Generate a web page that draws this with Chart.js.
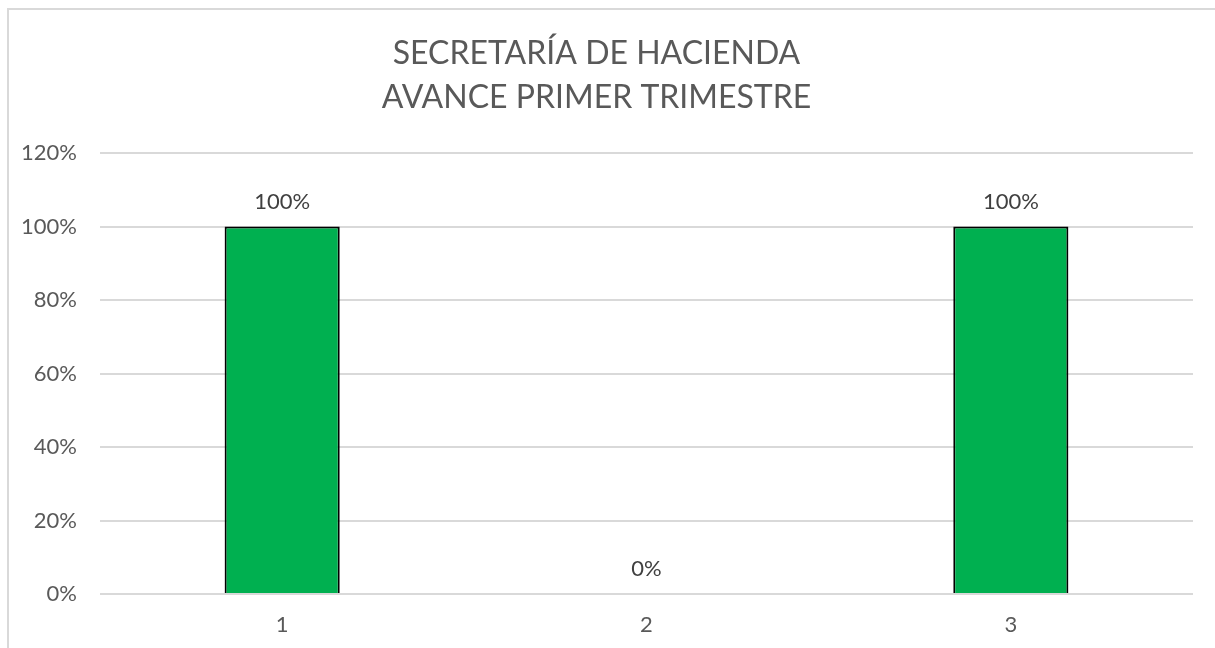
<!DOCTYPE html>
<html>
<head>
<meta charset="utf-8">
<script src="https://cdn.jsdelivr.net/npm/chart.js@4"></script>
<style>
  html, body { margin: 0; padding: 0; background: #fff; }
  #wrap { position: relative; width: 1215px; height: 648px; overflow: hidden; }
  #frame { position: absolute; left: 7px; top: 8px; width: 1300px; height: 700px;
           border: 2px solid #d9d9d9; box-sizing: border-box; pointer-events: none; }
  canvas { position: absolute; left: 0; top: 0; }
</style>
</head>
<body>
<div id="wrap">
  <canvas id="avanceChart" width="1215" height="648"></canvas>
  <div id="frame"></div>
</div>
<script>
// datos del gráfico
const titleLines = ["SECRETARÍA DE HACIENDA", "AVANCE PRIMER TRIMESTRE"];
const categories = ["1", "2", "3"];
const avance = [1, 0, 1];
const yTicks = [0, 0.2, 0.4, 0.6, 0.8, 1, 1.2];

const pct = v => Math.round(v * 100) + "%";

// etiquetas encima de las barras
const barLabels = {
  id: "barLabels",
  afterDatasetsDraw(chart) {
    const ctx = chart.ctx;
    const meta = chart.getDatasetMeta(0);
    ctx.save();
    ctx.font = "22px Lato";
    ctx.fillStyle = "#404040";
    ctx.textAlign = "center";
    ctx.textBaseline = "alphabetic";
    meta.data.forEach((bar, i) => {
      ctx.fillText(pct(avance[i]), bar.x, bar.y - 18);
    });
    ctx.restore();
  }
};

const ctx = document.getElementById("avanceChart").getContext("2d");
new Chart(ctx, {
  type: "bar",
  data: {
    labels: categories,
    datasets: [{
      data: avance,
      backgroundColor: "#00B050",
      borderColor: "#000000",
      borderWidth: c => (avance[c.dataIndex] === 0 ? 0 : 2),
      categoryPercentage: 1,
      barPercentage: 0.316
    }]
  },
  options: {
    responsive: false,
    animation: false,
    layout: { padding: { left: 0, right: 22, top: 0, bottom: 0 } },
    plugins: {
      legend: { display: false },
      tooltip: { enabled: false },
      title: {
        display: true,
        text: titleLines,
        color: "#595959",
        font: { family: "Lato", size: 32, weight: "normal", lineHeight: 1.375 },
        padding: { top: 32, bottom: 33 }
      }
    },
    scales: {
      x: {
        grid: { display: false, drawTicks: false },
        border: { display: false },
        ticks: { color: "#595959", font: { family: "Lato", size: 22 }, padding: 18 },
        afterFit: s => { s.height = 54; }
      },
      y: {
        min: 0,
        max: 1.2,
        afterBuildTicks: s => { s.ticks = yTicks.map(v => ({ value: v })); },
        grid: { color: "#d9d9d9", lineWidth: 2, drawTicks: false },
        border: { display: false },
        ticks: {
          color: "#595959",
          font: { family: "Lato", size: 22 },
          padding: 23,
          callback: v => pct(v)
        },
        afterFit: s => { s.width = 100; }
      }
    }
  },
  plugins: [barLabels]
});
</script>
</body>
</html>
